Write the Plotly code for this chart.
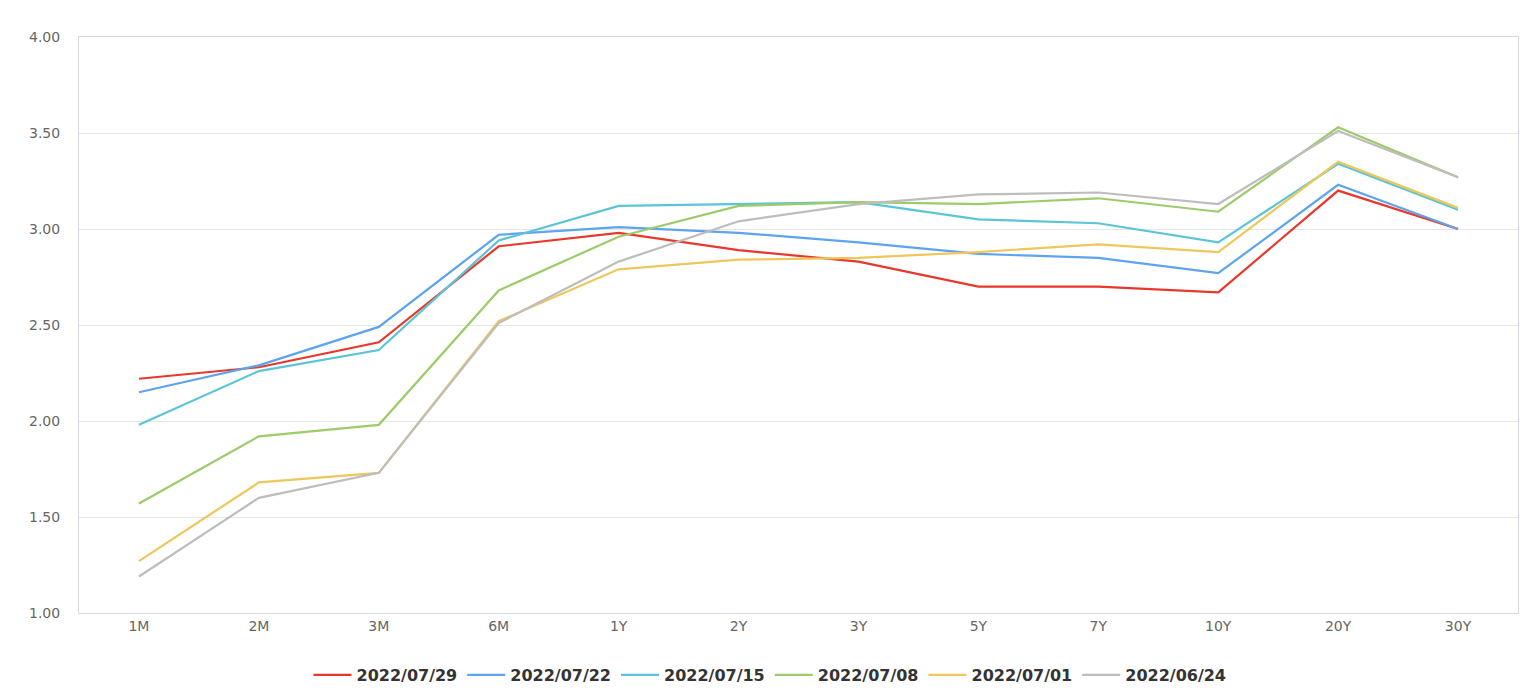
import plotly.graph_objects as go

categories = ["1M", "2M", "3M", "6M", "1Y", "2Y", "3Y", "5Y", "7Y", "10Y", "20Y", "30Y"]

s_0729 = [2.22, 2.28, 2.41, 2.91, 2.98, 2.89, 2.83, 2.70, 2.70, 2.67, 3.20, 3.00]
s_0722 = [2.15, 2.29, 2.49, 2.97, 3.01, 2.98, 2.93, 2.87, 2.85, 2.77, 3.23, 3.00]
s_0715 = [1.98, 2.26, 2.37, 2.94, 3.12, 3.13, 3.14, 3.05, 3.03, 2.93, 3.34, 3.10]
s_0708 = [1.57, 1.92, 1.98, 2.68, 2.96, 3.12, 3.14, 3.13, 3.16, 3.09, 3.53, 3.27]
s_0701 = [1.27, 1.68, 1.73, 2.52, 2.79, 2.84, 2.85, 2.88, 2.92, 2.88, 3.35, 3.11]
s_0624 = [1.19, 1.60, 1.73, 2.51, 2.83, 3.04, 3.13, 3.18, 3.19, 3.13, 3.51, 3.27]

series_names = ["2022/07/29", "2022/07/22", "2022/07/15", "2022/07/08", "2022/07/01", "2022/06/24"]
series_values = [s_0729, s_0722, s_0715, s_0708, s_0701, s_0624]
colors = ["#E8382B", "#5DA3F0", "#5BC4D6", "#9DCB6A", "#EEC75A", "#BDBDBD"]

y_ticks = [1.0, 1.5, 2.0, 2.5, 3.0, 3.5, 4.0]

fig = go.Figure()
for name, vals, col in zip(series_names, series_values, colors):
    fig.add_trace(go.Scatter(
        x=categories, y=vals, name=name, mode="lines",
        line=dict(color=col, width=2.2),
    ))

fig.update_layout(
    width=1540, height=700,
    margin=dict(l=79, r=22, t=37, b=87),
    plot_bgcolor="white", paper_bgcolor="white",
    showlegend=True,
    legend=dict(
        orientation="h", xref="container", yref="container",
        x=0.5, xanchor="center", y=0.0357, yanchor="middle",
        font=dict(family="DejaVu Sans, sans-serif", size=16, color="#333333", weight="bold"),
        itemwidth=38,
    ),
    font=dict(family="DejaVu Sans, sans-serif"),
)
fig.update_xaxes(
    type="category", categoryorder="array", categoryarray=categories,
    range=[-0.5, len(categories) - 0.5],
    showgrid=False, showline=True, mirror=True, linecolor="#D5D8E0", linewidth=1,
    ticks="", tickfont=dict(size=14, color="#666666"),
    zeroline=False,
)
fig.update_yaxes(
    range=[1.0, 4.0], tickvals=y_ticks, ticktext=[f"{v:.2f}" for v in y_ticks],
    showgrid=True, gridcolor="#E6E6E6", gridwidth=1,
    showline=True, mirror=True, linecolor="#D5D8E0", linewidth=1,
    ticks="", tickfont=dict(size=14, color="#666666"), ticklabelstandoff=15,
    zeroline=False,
)

fig.write_html("out.html")
